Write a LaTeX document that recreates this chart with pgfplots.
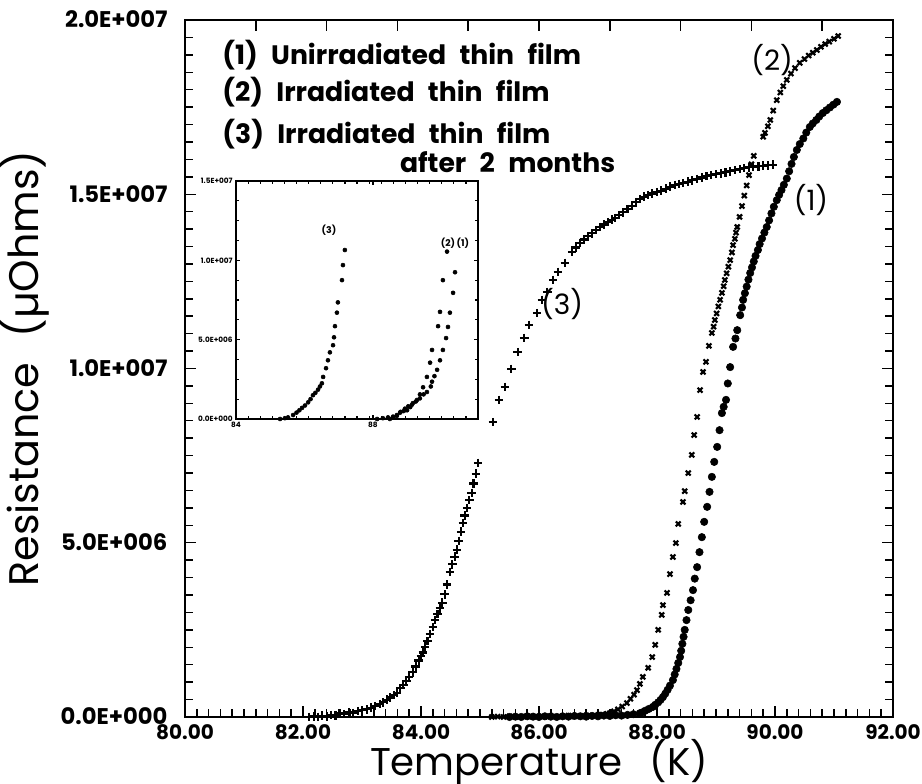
\documentclass[border=0pt]{standalone}
\usepackage{fontspec}
\setmainfont{Poppins}
\usepackage{pgfplots}
\pgfplotsset{compat=1.18}
\newcommand\gap{\hspace{0.5em}}

\begin{document}
\begin{tikzpicture}[x=1pt,y=1pt]
\path[use as bounding box] (0,0) rectangle (691.5,588);

% ---------- main axis: resistance versus temperature ----------
\begin{axis}[
  name=main,
  at={(138.75pt,50.25pt)}, anchor=south west,
  scale only axis, width=531pt, height=522.75pt,
  xmin=80, xmax=92, ymin=0, ymax=2e7,
  xtick={80,82,84,86,88,90,92},
  xticklabels={80.00,82.00,84.00,86.00,88.00,90.00,92.00},
  ytick={0,5e6,1e7,1.5e7,2e7},
  yticklabels={0.0E+000,5.0E+006,1.0E+007,1.5E+007,2.0E+007},
  minor x tick num=9, minor y tick num=9,
  xtick pos=left, ytick pos=both,
  tick align=inside,
  major tick length=8pt, minor tick length=6pt,
  tick style={black, line width=1.1pt},
  axis line style={line width=1.5pt},
  ticklabel style={font=\bfseries\fontsize{17}{17}\selectfont,
    inner sep=0pt, text height=12pt, text depth=0pt},
  xticklabel style={yshift=-5pt, font=\bfseries\fontsize{15}{15}\selectfont},
  yticklabel style={xshift=-13pt},
  xlabel={Temperature\hspace{0.7em}(K)},
  ylabel={Resistance\hspace{0.6em}(µOhms)},
  xlabel style={font=\fontsize{29}{29}\selectfont,
    at={(axis description cs:0.5,-0.0835)}, anchor=base, inner sep=0pt},
  ylabel style={font=\fontsize{31}{31}\selectfont,
    at={(axis description cs:-0.226,0.5)}, anchor=center},
  clip=false,
]
% (3) irradiated film after 2 months
\addplot[only marks, mark=+, mark size=3.2pt, mark options={line width=1.6pt}] coordinates {
(82.10,0.00e6)(82.18,0.02e6)(82.25,0.00e6)(82.32,0.04e6)(82.40,0.02e6)(82.47,0.06e6)
(82.55,0.05e6)(82.63,0.10e6)(82.70,0.08e6)(82.78,0.13e6)(82.85,0.12e6)(82.93,0.17e6)
(83.00,0.19e6)(83.08,0.22e6)(83.15,0.27e6)(83.22,0.31e6)(83.30,0.37e6)(83.36,0.42e6)
(83.42,0.50e6)(83.48,0.56e6)(83.54,0.63e6)(83.59,0.70e6)(83.65,0.82e6)(83.70,0.93e6)
(83.75,1.03e6)(83.80,1.14e6)(83.86,1.28e6)(83.91,1.45e6)(83.96,1.62e6)(84.00,1.75e6)
(84.03,1.85e6)(84.07,2.02e6)(84.11,2.18e6)(84.15,2.38e6)(84.20,2.58e6)(84.24,2.78e6)
(84.28,2.96e6)(84.32,3.12e6)(84.36,3.28e6)(84.40,3.52e6)(84.44,3.80e6)(84.49,4.16e6)
(84.53,4.38e6)(84.57,4.60e6)(84.61,4.80e6)(84.64,5.05e6)(84.68,5.32e6)(84.71,5.57e6)
(84.74,5.78e6)(84.78,6.00e6)(84.82,6.22e6)(84.86,6.43e6)(84.89,6.70e6)(84.93,6.98e6)
(84.97,7.29e6)
(85.22,8.46e6)(85.32,9.10e6)(85.42,9.47e6)(85.53,9.99e6)(85.64,10.47e6)(85.75,10.88e6)
(85.83,11.25e6)(85.97,11.59e6)(86.05,11.97e6)(86.14,12.20e6)(86.24,12.54e6)(86.32,12.77e6)
(86.44,13.03e6)(86.56,13.34e6)
(86.62,13.47e6)(86.69,13.60e6)(86.76,13.70e6)(86.83,13.79e6)(86.90,13.88e6)(86.97,13.97e6)
(87.03,14.06e6)(87.10,14.13e6)(87.17,14.20e6)(87.23,14.27e6)(87.29,14.32e6)(87.36,14.40e6)
(87.43,14.48e6)(87.50,14.57e6)(87.57,14.66e6)(87.64,14.77e6)(87.71,14.87e6)(87.78,14.93e6)
(87.85,14.98e6)(87.92,15.02e6)(88.00,15.06e6)(88.07,15.10e6)(88.15,15.16e6)(88.22,15.22e6)
(88.30,15.27e6)(88.37,15.30e6)(88.44,15.32e6)(88.52,15.36e6)(88.60,15.40e6)(88.68,15.44e6)
(88.76,15.48e6)(88.84,15.52e6)(88.92,15.55e6)(89.00,15.58e6)(89.08,15.60e6)(89.16,15.63e6)
(89.24,15.66e6)(89.32,15.69e6)(89.40,15.72e6)(89.48,15.75e6)(89.56,15.77e6)(89.63,15.78e6)
(89.72,15.80e6)(89.80,15.82e6)(89.88,15.83e6)(89.97,15.85e6)
};
% (2) irradiated film
\addplot[only marks, mark=x, mark size=2.6pt, mark options={line width=1.6pt}] coordinates {
(85.20,0.00e6)(85.30,0.01e6)(85.40,0.00e6)(85.50,0.02e6)(85.60,0.00e6)(85.70,0.01e6)
(85.80,0.02e6)(85.90,0.00e6)(86.00,0.02e6)(86.10,0.01e6)(86.20,0.03e6)(86.30,0.01e6)
(86.40,0.02e6)(86.50,0.04e6)(86.60,0.02e6)(86.70,0.03e6)(86.80,0.05e6)(86.90,0.04e6)
(87.00,0.06e6)(87.08,0.07e6)(87.15,0.09e6)(87.20,0.11e6)(87.27,0.16e6)(87.34,0.22e6)
(87.41,0.30e6)(87.49,0.40e6)(87.55,0.52e6)(87.61,0.64e6)(87.66,0.77e6)(87.71,0.95e6)
(87.76,1.15e6)
(87.85,1.41e6)(87.92,1.72e6)(87.97,2.07e6)(88.02,2.50e6)(88.08,2.93e6)(88.10,3.21e6)
(88.17,3.56e6)(88.22,4.10e6)(88.27,4.59e6)(88.32,4.99e6)(88.36,5.54e6)(88.44,6.17e6)
(88.47,6.48e6)(88.53,7.00e6)(88.59,7.52e6)(88.63,8.09e6)(88.68,8.61e6)(88.73,9.38e6)
(88.78,9.90e6)(88.83,10.19e6)(88.88,10.65e6)(88.93,11.02e6)
(88.96,11.20e6)(88.98,11.39e6)(89.01,11.58e6)(89.04,11.78e6)(89.07,11.97e6)(89.10,12.17e6)
(89.13,12.36e6)(89.15,12.54e6)(89.18,12.73e6)(89.21,12.92e6)(89.24,13.11e6)(89.27,13.33e6)
(89.29,13.54e6)(89.32,13.72e6)(89.34,13.90e6)(89.36,14.06e6)(89.40,14.35e6)(89.44,14.66e6)
(89.48,14.96e6)(89.52,15.25e6)(89.56,15.55e6)(89.60,15.86e6)(89.64,16.10e6)
(89.80,16.65e6)(89.83,16.76e6)(89.88,16.95e6)(89.92,17.13e6)(89.97,17.40e6)(90.03,17.70e6)
(90.09,17.92e6)(90.14,18.10e6)(90.20,18.28e6)(90.27,18.46e6)(90.34,18.62e6)(90.42,18.77e6)
(90.50,18.88e6)(90.57,18.98e6)(90.64,19.06e6)(90.71,19.14e6)(90.78,19.23e6)(90.85,19.31e6)
(90.92,19.38e6)(91.00,19.46e6)(91.07,19.54e6)
};
% (1) unirradiated film
\addplot[only marks, mark=*, mark size=2.8pt] coordinates {
(85.50,0.00e6)(85.60,0.01e6)(85.70,0.00e6)(85.80,0.02e6)(85.90,0.01e6)(86.00,0.00e6)
(86.10,0.02e6)(86.20,0.01e6)(86.30,0.00e6)(86.40,0.02e6)(86.50,0.01e6)(86.60,0.03e6)
(86.70,0.02e6)(86.80,0.01e6)(86.90,0.03e6)(87.00,0.02e6)(87.10,0.04e6)(87.20,0.03e6)
(87.30,0.05e6)(87.40,0.04e6)(87.50,0.06e6)(87.60,0.08e6)(87.71,0.11e6)(87.76,0.14e6)
(87.80,0.18e6)(87.86,0.23e6)(87.93,0.29e6)(87.97,0.35e6)(88.02,0.42e6)(88.06,0.49e6)
(88.10,0.57e6)(88.14,0.67e6)(88.18,0.78e6)(88.22,0.90e6)(88.27,1.06e6)(88.30,1.22e6)
(88.33,1.38e6)(88.36,1.55e6)(88.39,1.72e6)(88.41,1.90e6)(88.43,2.10e6)(88.45,2.30e6)
(88.47,2.50e6)(88.50,2.78e6)(88.53,3.07e6)(88.57,3.35e6)(88.61,3.64e6)(88.64,3.97e6)
(88.68,4.30e6)(88.72,4.73e6)(88.76,5.16e6)(88.80,5.60e6)(88.85,6.03e6)(88.89,6.46e6)
(88.93,6.89e6)(88.97,7.32e6)(89.02,7.75e6)(89.06,8.23e6)(89.10,8.72e6)(89.13,8.90e6)
(89.17,9.10e6)(89.20,9.57e6)(89.24,10.04e6)(89.29,10.62e6)(89.33,10.86e6)(89.36,11.10e6)
(89.41,11.53e6)(89.44,11.75e6)(89.46,11.97e6)(89.49,12.16e6)(89.52,12.35e6)(89.55,12.55e6)
(89.58,12.74e6)(89.61,12.90e6)(89.64,13.07e6)(89.67,13.23e6)(89.71,13.40e6)(89.74,13.57e6)
(89.78,13.73e6)(89.82,13.90e6)(89.86,14.06e6)(89.90,14.25e6)(89.94,14.45e6)(89.98,14.64e6)
(90.03,14.83e6)(90.07,14.98e6)(90.11,15.12e6)(90.15,15.27e6)(90.20,15.45e6)(90.24,15.66e6)
(90.28,15.87e6)(90.32,16.07e6)(90.37,16.27e6)(90.42,16.44e6)(90.48,16.60e6)(90.53,16.77e6)
(90.59,16.93e6)(90.64,17.03e6)(90.70,17.13e6)(90.75,17.23e6)(90.81,17.33e6)(90.87,17.41e6)
(90.93,17.49e6)(90.99,17.57e6)(91.05,17.65e6)
};
% key text and curve labels
\begin{scope}[every node/.style={font=\bfseries\fontsize{20}{20}\selectfont, inner sep=0pt}]
\node[anchor=west] at (axis cs:80.63,19.00e6) {(1)\gap Unirradiated\gap thin\gap film};
\node[anchor=west] at (axis cs:80.63,17.93e6) {(2)\gap Irradiated\gap thin\gap film};
\node[anchor=west] at (axis cs:80.63,16.73e6) {(3)\gap Irradiated\gap thin\gap film};
\node[anchor=west] at (axis cs:83.64,15.93e6) {after\gap 2\gap months};
\end{scope}
\begin{scope}[every node/.style={font=\fontsize{21}{21}\selectfont, inner sep=0pt}]
\node at (axis cs:89.95,18.85e6) {(2)};
\node at (axis cs:90.61,14.83e6) {(1)};
\node at (axis cs:86.39,11.85e6) {(3)};
\end{scope}
\end{axis}

% ---------- top edge ticks ----------
\begin{axis}[
  at={(138.75pt,50.25pt)}, anchor=south west,
  scale only axis, width=531pt, height=522.75pt,
  xmin=0, xmax=10, ymin=0, ymax=1,
  xtick={1,...,9}, xticklabels={}, ytick=\empty,
  xtick pos=right, tick align=inside,
  major tick length=8pt,
  tick style={black, line width=1.1pt},
  axis line style={draw=none},
]
\end{axis}

% ---------- inset ----------
\begin{axis}[
  at={(177pt,273.75pt)}, anchor=south west,
  scale only axis, width=181.5pt, height=178.5pt,
  xmin=0, xmax=100, ymin=0, ymax=3,
  axis background/.style={fill=white},
  xtick={0,56.6}, xticklabels={84,88},
  ytick={0,1,2,3},
  yticklabels={0.0E+000,5.0E+006,1.0E+007,1.5E+007},
  minor xtick={5,10,...,95}, minor ytick={0.25,0.5,...,2.75},
  tick align=inside,
  major tick length=3pt, minor tick length=2pt,
  tick style={black, line width=0.9pt},
  axis line style={line width=1.6pt},
  ticklabel style={font=\bfseries\fontsize{5.5}{5.5}\selectfont},
  xticklabel style={yshift=1pt},
  yticklabel style={xshift=1pt},
  clip=false,
]
\addplot[only marks, mark=*, mark size=1.5pt] coordinates {
(18.2,0)(20.2,0.01)(21.5,0.02)(23.6,0.05)(25.0,0.08)(26.2,0.11)(27.3,0.14)(28.5,0.17)
(29.8,0.21)(30.8,0.25)(31.8,0.30)(32.8,0.33)(33.9,0.37)(34.7,0.41)(35.5,0.45)(36.0,0.53)
(37.2,0.64)(38.0,0.74)(38.8,0.84)(40.1,0.93)(40.5,1.03)(40.9,1.17)(41.7,1.34)(42.1,1.47)
(43.8,1.75)(44.2,1.94)(45.0,2.13)
};
\addplot[only marks, mark=*, mark size=1.5pt] coordinates {
(58.3,0)(60.7,0.01)(62.8,0.02)(64.9,0.03)(66.5,0.05)(67.8,0.08)(69.3,0.10)(70.7,0.11)
(72.0,0.15)(73.1,0.20)(74.8,0.24)(76.0,0.31)(77.3,0.40)(78.9,0.53)(80.2,0.71)(81.0,0.87)
(83.5,1.17)(84.3,1.35)(85.5,1.75)(87.2,2.11)
};
\addplot[only marks, mark=*, mark size=1.5pt] coordinates {
(63.6,0)(65.0,0.02)(66.5,0.04)(68.0,0.09)(69.8,0.13)(71.2,0.16)(72.7,0.18)(74.3,0.22)
(76.0,0.26)(77.5,0.31)(78.9,0.34)(80.5,0.41)(81.0,0.47)(82.0,0.54)(83.1,0.62)(84.3,0.74)
(85.5,0.87)(86.8,1.02)(87.6,1.16)(88.4,1.34)(89.7,1.59)(90.5,1.85)
};
\node[font=\bfseries\fontsize{7}{7}\selectfont, inner sep=0pt] at (axis cs:38.4,2.38) {(3)};
\node[font=\bfseries\fontsize{7}{7}\selectfont, inner sep=0pt] at (axis cs:90.5,2.22) {(2)\,(1)};
\end{axis}
\end{tikzpicture}
\end{document}
